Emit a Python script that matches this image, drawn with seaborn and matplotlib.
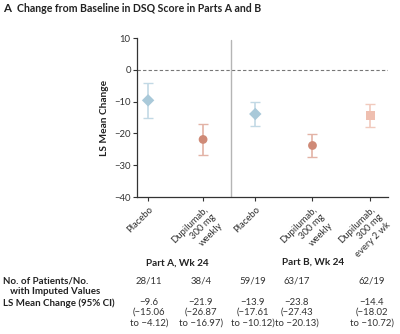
import matplotlib
matplotlib.use("Agg")
import matplotlib.pyplot as plt
import seaborn as sns
import pandas as pd

groups = ["Placebo A", "Dupilumab weekly A", "Placebo B", "Dupilumab weekly B", "Dupilumab q2w B"]
tick_labels = ["Placebo", "Dupilumab,\n300 mg\nweekly", "Placebo", "Dupilumab,\n300 mg\nweekly", "Dupilumab,\n300 mg\nevery 2 wk"]
arm = ["placebo", "weekly", "placebo", "weekly", "q2w"]
ls_mean = [-9.6, -21.9, -13.9, -23.8, -14.4]
ci_low = [-15.06, -26.87, -17.61, -27.43, -18.02]
ci_high = [-4.12, -16.97, -10.12, -20.13, -10.72]
n_patients = ["28/11", "38/4", "59/19", "63/17", "62/19"]
ls_text = ["\u22129.6\n(\u221215.06\nto \u22124.12)", "\u221221.9\n(\u221226.87\nto \u221216.97)",
           "\u221213.9\n(\u221217.61\nto \u221210.12)", "\u221223.8\n(\u221227.43\nto \u221220.13)",
           "\u221214.4\n(\u221218.02\nto \u221210.72)"]
parts = ["Part A, Wk 24", "Part B, Wk 24"]

positions = [0, 0.99, 1.93, 2.96, 4.0]
table_x = [149, 201, 253, 297, 372]

sns.set_theme(style="ticks")
plt.rcParams["font.family"] = ["Lato", "DejaVu Sans"]

marker_col = {"placebo": "#a9c9d9", "weekly": "#cf8a77", "q2w": "#efbfb0"}
bar_col = {"placebo": "#c2d9e5", "weekly": "#e3b3a6", "q2w": "#f1cabd"}
markers = {"placebo": "D", "weekly": "o", "q2w": "s"}

df = pd.DataFrame({"x": positions, "y": ls_mean, "arm": arm, "lo": ci_low, "hi": ci_high})

fig = plt.figure(figsize=(4.0, 3.34), dpi=100)
ax = fig.add_axes([137/400, 1-197/334, 251/400, 159/334])

for _, r in df.iterrows():
    ax.errorbar(r["x"], r["y"], yerr=[[r["y"]-r["lo"]], [r["hi"]-r["y"]]], fmt="none",
                ecolor=bar_col[r["arm"]], elinewidth=1.2, capsize=3.5, capthick=1.0, zorder=2)

sns.scatterplot(data=df, x="x", y="y", hue="arm", style="arm", palette=marker_col,
                markers=markers, s=40, linewidth=0, legend=False, ax=ax, zorder=3)

ax.axhline(0, color="#777777", ls=(0, (3, 2)), lw=0.8, zorder=1)
ax.plot([1.49, 1.49], [-40, 9.3], color="#b5b5b5", lw=1.0, zorder=1)

ax.set_xlim(-0.2, 4.32)
ax.set_ylim(-40, 10)
ax.set_yticks([10, 0, -10, -20, -30, -40])
ax.set_yticklabels(["10", "0", "\u221210", "\u221220", "\u221230", "\u221240"])
ax.set_xticks(positions)
ax.set_xticklabels(tick_labels, rotation=45, ha="right", va="top", rotation_mode="anchor",
                   linespacing=1.3, multialignment="right")
ax.tick_params(axis="both", labelsize=6.8, colors="#333333", length=3, width=0.8, pad=1.5)
ax.tick_params(axis="x", pad=2.5)
for s in ["top", "right"]:
    ax.spines[s].set_visible(False)
for s in ["left", "bottom"]:
    ax.spines[s].set_color("#333333")
    ax.spines[s].set_linewidth(0.9)
ax.set_xlabel("")
ax.set_ylabel("LS Mean Change", fontsize=7.3, fontweight="bold", color="#222222", labelpad=4)

fig.text(3/400, 1-8.5/334, "A", fontsize=8.3, fontweight="bold", va="center", ha="left", color="#222222")
fig.text(17/400, 1-8.5/334, "Change from Baseline in DSQ Score in Parts A and B", fontsize=7.6,
         fontweight="bold", va="center", ha="left", color="#222222")

fig.text(177/400, 1-263/334, parts[0], fontsize=7.2, fontweight="bold", ha="center", va="center", color="#222222")
fig.text(313/400, 1-262/334, parts[1], fontsize=7.2, fontweight="bold", ha="center", va="center", color="#222222")

fig.text(3/400, 1-281/334, "No. of Patients/No.", fontsize=7.0, fontweight="bold", ha="left", va="center", color="#222222")
fig.text(3/400, 1-291.5/334, "   with Imputed Values", fontsize=7.0, fontweight="bold", ha="left", va="center", color="#222222")
fig.text(3/400, 1-303/334, "LS Mean Change (95% CI)", fontsize=7.0, fontweight="bold", ha="left", va="center", color="#222222")

for tx, npt, lt in zip(table_x, n_patients, ls_text):
    fig.text(tx/400, 1-281/334, npt, fontsize=6.9, ha="center", va="center", color="#333333")
    fig.text(tx/400, 1-298/334, lt, fontsize=6.9, ha="center", va="top", color="#333333",
             linespacing=1.15, multialignment="center")

fig.savefig("out.png", dpi=100, facecolor="white")
